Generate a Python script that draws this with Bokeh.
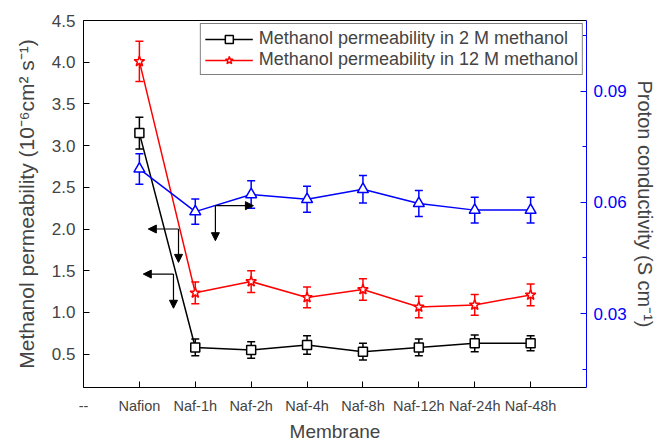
from bokeh.plotting import figure
from bokeh.models import (Range1d, LinearAxis, FixedTicker, Whisker, TeeHead,
                          ColumnDataSource, Arrow, NormalHead, PrintfTickFormatter)
from bokeh.embed import file_html
from bokeh.resources import INLINE

# ---------------- data ----------------
tick_labels = ["--", "Nafion", "Naf-1h", "Naf-2h", "Naf-4h", "Naf-8h",
               "Naf-12h", "Naf-24h", "Naf-48h"]
membranes = tick_labels[1:]

perm_2M = [3.15, 0.58, 0.55, 0.61, 0.53, 0.58, 0.63, 0.63]
err_2M = [0.19, 0.10, 0.10, 0.11, 0.10, 0.10, 0.10, 0.09]

perm_12M = [4.01, 1.235, 1.37, 1.18, 1.275, 1.065, 1.09, 1.21]
err_12M = [0.24, 0.13, 0.13, 0.125, 0.13, 0.13, 0.125, 0.13]

conductivity = [0.069, 0.0575, 0.0621, 0.0608, 0.0635, 0.0597, 0.0579, 0.0579]
cond_err = [0.0041, 0.0034, 0.0037, 0.0035, 0.0037, 0.0035, 0.0035, 0.0035]

left_ticks = [0.5, 1.0, 1.5, 2.0, 2.5, 3.0, 3.5, 4.0, 4.5]
right_ticks = [0.03, 0.06, 0.09]
right_minor = [0.015, 0.045, 0.075, 0.105]

# annotation arrows (left-axis data units)
arrow_x0 = [1.70, 1.70, 1.61, 1.61, 2.36, 2.36]
arrow_y0 = [2.00, 2.00, 1.46, 1.46, 2.28, 2.28]
arrow_x1 = [1.16, 1.70, 1.07, 1.61, 3.04, 2.36]
arrow_y1 = [2.00, 1.60, 1.46, 1.05, 2.28, 1.86]

FONT = "Liberation Sans"
BLUE = "#0000ff"
RED = "#ff0000"

xs = list(range(1, len(membranes) + 1))

p = figure(width=659, height=444, output_backend="svg", toolbar_location=None,
           x_range=Range1d(0, len(tick_labels)), y_range=Range1d(0.1, 4.5),
           min_border_left=83, min_border_right=73, min_border_top=20,
           min_border_bottom=52)
p.extra_y_ranges = {"cond": Range1d(0.0101, 0.109)}
p.xgrid.visible = False
p.ygrid.visible = False
p.outline_line_color = None
p.background_fill_color = "white"
p.border_fill_color = "white"

# bottom axis
xa = p.xaxis[0]
xa.ticker = FixedTicker(ticks=list(range(len(tick_labels))), minor_ticks=[])
xa.major_label_overrides = {i: t for i, t in enumerate(tick_labels)}
xa.major_tick_in = 6
xa.major_tick_out = 0
xa.minor_tick_in = 0
xa.minor_tick_out = 0
xa.axis_line_color = "black"
xa.major_tick_line_color = "black"
xa.major_label_text_font = FONT
xa.major_label_text_font_size = "14.5px"
xa.major_label_standoff = 10
xa.axis_label = "Membrane"
xa.axis_label_text_font = FONT
xa.axis_label_text_font_size = "19px"
xa.axis_label_text_font_style = "normal"
xa.axis_label_standoff = 4

# left axis
ya = p.yaxis[0]
ya.ticker = FixedTicker(ticks=left_ticks, minor_ticks=[])
ya.formatter = PrintfTickFormatter(format="%.1f")
ya.major_tick_in = 6
ya.major_tick_out = 0
ya.minor_tick_in = 0
ya.minor_tick_out = 0
ya.major_label_text_font = FONT
ya.major_label_text_font_size = "17px"
ya.major_label_standoff = 8
ya.axis_label = "Methanol permeability (10\u207b\u2076cm\u00b2 s\u207b\u00b9)"
ya.axis_label_text_font = FONT
ya.axis_label_text_font_size = "21px"
ya.axis_label_text_font_style = "normal"
ya.axis_label_standoff = 11

# right axis
ra = LinearAxis(y_range_name="cond",
                ticker=FixedTicker(ticks=right_ticks, minor_ticks=right_minor),
                formatter=PrintfTickFormatter(format="%.2f"))
ra.axis_line_color = BLUE
ra.major_tick_line_color = BLUE
ra.minor_tick_line_color = BLUE
ra.major_tick_in = 6
ra.major_tick_out = 0
ra.minor_tick_in = 4
ra.minor_tick_out = 0
ra.major_label_text_color = BLUE
ra.major_label_text_font = FONT
ra.major_label_text_font_size = "17px"
ra.major_label_standoff = 7
ra.axis_label = "Proton conductivity (S cm\u207b\u00b9)"
ra.axis_label_text_font = FONT
ra.axis_label_text_font_size = "20px"
ra.axis_label_text_font_style = "normal"
ra.axis_label_standoff = 4
p.add_layout(ra, "right")

# top border line
ta = LinearAxis(ticker=FixedTicker(ticks=[], minor_ticks=[]))
ta.major_tick_in = 0
ta.major_tick_out = 0
ta.minor_tick_in = 0
ta.minor_tick_out = 0
ta.major_label_text_font_size = "0px"
ta.major_label_standoff = 0
ta.axis_line_color = "black"
p.add_layout(ta, "above")

# ---- series ----
src2 = ColumnDataSource(dict(x=xs, y=perm_2M,
                             lo=[v - e for v, e in zip(perm_2M, err_2M)],
                             hi=[v + e for v, e in zip(perm_2M, err_2M)]))
src12 = ColumnDataSource(dict(x=xs, y=perm_12M,
                              lo=[v - e for v, e in zip(perm_12M, err_12M)],
                              hi=[v + e for v, e in zip(perm_12M, err_12M)]))
srcc = ColumnDataSource(dict(x=xs, y=conductivity,
                             lo=[v - e for v, e in zip(conductivity, cond_err)],
                             hi=[v + e for v, e in zip(conductivity, cond_err)]))

lab2 = "Methanol permeability in 2 M methanol"
lab12 = "Methanol permeability in 12 M methanol"

for src, col, rng in [(src2, "black", "default"), (src12, RED, "default"),
                      (srcc, BLUE, "cond")]:
    w = Whisker(base="x", lower="lo", upper="hi", source=src, y_range_name=rng,
                line_color=col, line_width=1.5,
                upper_head=TeeHead(size=8, line_color=col, line_width=1.5),
                lower_head=TeeHead(size=8, line_color=col, line_width=1.5))
    p.add_layout(w)

p.line("x", "y", source=src2, line_color="black", line_width=1.5, legend_label=lab2)
p.scatter("x", "y", source=src2, marker="square", size=9, fill_color="white",
          line_color="black", line_width=1.5, legend_label=lab2)

p.line("x", "y", source=src12, line_color=RED, line_width=1.5, legend_label=lab12)
p.scatter("x", "y", source=src12, marker="star", size=11, fill_color="white",
          line_color=RED, line_width=1.5, legend_label=lab12)

p.line("x", "y", source=srcc, y_range_name="cond", line_color=BLUE, line_width=1.5)
p.scatter("x", "y", source=srcc, y_range_name="cond", marker="triangle", size=11,
          fill_color="white", line_color=BLUE, line_width=1.5)

# arrows
for x0, y0, x1, y1 in zip(arrow_x0, arrow_y0, arrow_x1, arrow_y1):
    p.add_layout(Arrow(x_start=x0, y_start=y0, x_end=x1, y_end=y1,
                       line_color="black", line_width=1.2,
                       end=NormalHead(size=8, fill_color="black", line_color="black",
                                      line_width=1)))

# legend
lg = p.legend[0]
lg.location = "top_right"
lg.margin = 3
lg.padding = 4
lg.spacing = 0
lg.border_line_color = "black"
lg.border_line_width = 1
lg.background_fill_color = "white"
lg.background_fill_alpha = 1
lg.label_text_font = FONT
lg.label_text_font_size = "18px"
lg.glyph_width = 48
lg.glyph_height = 20
lg.label_height = 20
lg.label_standoff = 6

open("out.html", "w").write(file_html(p, INLINE))
